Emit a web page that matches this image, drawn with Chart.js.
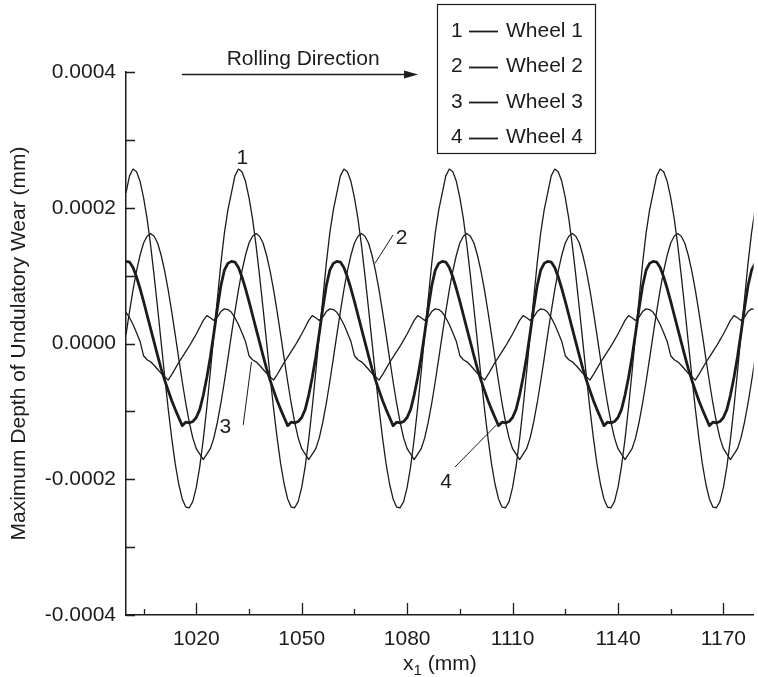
<!DOCTYPE html>
<html>
<head>
<meta charset="utf-8">
<title>Undulatory wear of four wheels</title>
<script src="https://cdn.jsdelivr.net/npm/chart.js@4.4.1/dist/chart.umd.min.js"></script>
<style>
  html, body { margin: 0; padding: 0; background: #ffffff; }
  #wrap { width: 758px; height: 677px; }
</style>
</head>
<body>
<div id="wrap"><canvas id="wear" width="758" height="677"></canvas></div>
<script>
// Position along the rail, x1 (mm)
const positionMm = [
  1000,1001,1002,1003,1004,1005,1006,1007,1008,1009,1010,1011,1012,1013,1014,1015,1016,1017,1018,1019,1020,1021,1022,1023,1024,1025,1026,1027,1028,1029,
  1030,1031,1032,1033,1034,1035,1036,1037,1038,1039,1040,1041,1042,1043,1044,1045,1046,1047,1048,1049,1050,1051,1052,1053,1054,1055,1056,1057,1058,1059,
  1060,1061,1062,1063,1064,1065,1066,1067,1068,1069,1070,1071,1072,1073,1074,1075,1076,1077,1078,1079,1080,1081,1082,1083,1084,1085,1086,1087,1088,1089,
  1090,1091,1092,1093,1094,1095,1096,1097,1098,1099,1100,1101,1102,1103,1104,1105,1106,1107,1108,1109,1110,1111,1112,1113,1114,1115,1116,1117,1118,1119,
  1120,1121,1122,1123,1124,1125,1126,1127,1128,1129,1130,1131,1132,1133,1134,1135,1136,1137,1138,1139,1140,1141,1142,1143,1144,1145,1146,1147,1148,1149,
  1150,1151,1152,1153,1154,1155,1156,1157,1158,1159,1160,1161,1162,1163,1164,1165,1166,1167,1168,1169,1170,1171,1172,1173,1174,1175,1176,1177,1178,1179
];

// Maximum depth of undulatory wear (mm), wheel 1
const wheel1Depth = [
  2.22e-4,2.47e-4,2.57e-4,2.53e-4,2.39e-4,2.15e-4,1.84e-4,1.45e-4,1.00e-4,0.52e-4,0.02e-4,-0.48e-4,-0.96e-4,-1.39e-4,-1.77e-4,-2.07e-4,-2.29e-4,-2.41e-4,-2.42e-4,-2.33e-4,-2.12e-4,-1.81e-4,-1.41e-4,-0.94e-4,-0.42e-4,0.13e-4,0.66e-4,1.18e-4,1.63e-4,1.97e-4,
  2.22e-4,2.47e-4,2.57e-4,2.53e-4,2.39e-4,2.15e-4,1.84e-4,1.45e-4,1.00e-4,0.52e-4,0.02e-4,-0.48e-4,-0.96e-4,-1.39e-4,-1.77e-4,-2.07e-4,-2.29e-4,-2.41e-4,-2.42e-4,-2.33e-4,-2.12e-4,-1.81e-4,-1.41e-4,-0.94e-4,-0.42e-4,0.13e-4,0.66e-4,1.18e-4,1.63e-4,1.97e-4,
  2.22e-4,2.47e-4,2.57e-4,2.53e-4,2.39e-4,2.15e-4,1.84e-4,1.45e-4,1.00e-4,0.52e-4,0.02e-4,-0.48e-4,-0.96e-4,-1.39e-4,-1.77e-4,-2.07e-4,-2.29e-4,-2.41e-4,-2.42e-4,-2.33e-4,-2.12e-4,-1.81e-4,-1.41e-4,-0.94e-4,-0.42e-4,0.13e-4,0.66e-4,1.18e-4,1.63e-4,1.97e-4,
  2.22e-4,2.47e-4,2.57e-4,2.53e-4,2.39e-4,2.15e-4,1.84e-4,1.45e-4,1.00e-4,0.52e-4,0.02e-4,-0.48e-4,-0.96e-4,-1.39e-4,-1.77e-4,-2.07e-4,-2.29e-4,-2.41e-4,-2.42e-4,-2.33e-4,-2.12e-4,-1.81e-4,-1.41e-4,-0.94e-4,-0.42e-4,0.13e-4,0.66e-4,1.18e-4,1.63e-4,1.97e-4,
  2.22e-4,2.47e-4,2.57e-4,2.53e-4,2.39e-4,2.15e-4,1.84e-4,1.45e-4,1.00e-4,0.52e-4,0.02e-4,-0.48e-4,-0.96e-4,-1.39e-4,-1.77e-4,-2.07e-4,-2.29e-4,-2.41e-4,-2.42e-4,-2.33e-4,-2.12e-4,-1.81e-4,-1.41e-4,-0.94e-4,-0.42e-4,0.13e-4,0.66e-4,1.18e-4,1.63e-4,1.97e-4,
  2.22e-4,2.47e-4,2.57e-4,2.53e-4,2.39e-4,2.15e-4,1.84e-4,1.45e-4,1.00e-4,0.52e-4,0.02e-4,-0.48e-4,-0.96e-4,-1.39e-4,-1.77e-4,-2.07e-4,-2.29e-4,-2.41e-4,-2.42e-4,-2.33e-4,-2.12e-4,-1.81e-4,-1.41e-4,-0.94e-4,-0.42e-4,0.13e-4,0.66e-4,1.18e-4,1.63e-4,1.97e-4
];

// wheel 2
const wheel2Depth = [
  0.13e-4,0.47e-4,0.79e-4,1.07e-4,1.30e-4,1.48e-4,1.58e-4,1.62e-4,1.58e-4,1.48e-4,1.30e-4,1.07e-4,0.79e-4,0.47e-4,0.13e-4,-0.22e-4,-0.56e-4,-0.88e-4,-1.16e-4,-1.39e-4,-1.55e-4,-1.63e-4,-1.71e-4,-1.63e-4,-1.55e-4,-1.39e-4,-1.16e-4,-0.88e-4,-0.56e-4,-0.22e-4,
  0.13e-4,0.47e-4,0.79e-4,1.07e-4,1.30e-4,1.48e-4,1.58e-4,1.62e-4,1.58e-4,1.48e-4,1.30e-4,1.07e-4,0.79e-4,0.47e-4,0.13e-4,-0.22e-4,-0.56e-4,-0.88e-4,-1.16e-4,-1.39e-4,-1.55e-4,-1.63e-4,-1.71e-4,-1.63e-4,-1.55e-4,-1.39e-4,-1.16e-4,-0.88e-4,-0.56e-4,-0.22e-4,
  0.13e-4,0.47e-4,0.79e-4,1.07e-4,1.30e-4,1.48e-4,1.58e-4,1.62e-4,1.58e-4,1.48e-4,1.30e-4,1.07e-4,0.79e-4,0.47e-4,0.13e-4,-0.22e-4,-0.56e-4,-0.88e-4,-1.16e-4,-1.39e-4,-1.55e-4,-1.63e-4,-1.71e-4,-1.63e-4,-1.55e-4,-1.39e-4,-1.16e-4,-0.88e-4,-0.56e-4,-0.22e-4,
  0.13e-4,0.47e-4,0.79e-4,1.07e-4,1.30e-4,1.48e-4,1.58e-4,1.62e-4,1.58e-4,1.48e-4,1.30e-4,1.07e-4,0.79e-4,0.47e-4,0.13e-4,-0.22e-4,-0.56e-4,-0.88e-4,-1.16e-4,-1.39e-4,-1.55e-4,-1.63e-4,-1.71e-4,-1.63e-4,-1.55e-4,-1.39e-4,-1.16e-4,-0.88e-4,-0.56e-4,-0.22e-4,
  0.13e-4,0.47e-4,0.79e-4,1.07e-4,1.30e-4,1.48e-4,1.58e-4,1.62e-4,1.58e-4,1.48e-4,1.30e-4,1.07e-4,0.79e-4,0.47e-4,0.13e-4,-0.22e-4,-0.56e-4,-0.88e-4,-1.16e-4,-1.39e-4,-1.55e-4,-1.63e-4,-1.71e-4,-1.63e-4,-1.55e-4,-1.39e-4,-1.16e-4,-0.88e-4,-0.56e-4,-0.22e-4,
  0.13e-4,0.47e-4,0.79e-4,1.07e-4,1.30e-4,1.48e-4,1.58e-4,1.62e-4,1.58e-4,1.48e-4,1.30e-4,1.07e-4,0.79e-4,0.47e-4,0.13e-4,-0.22e-4,-0.56e-4,-0.88e-4,-1.16e-4,-1.39e-4,-1.55e-4,-1.63e-4,-1.71e-4,-1.63e-4,-1.55e-4,-1.39e-4,-1.16e-4,-0.88e-4,-0.56e-4,-0.22e-4
];

// wheel 3
const wheel3Depth = [
  0.46e-4,0.38e-4,0.28e-4,0.16e-4,0.03e-4,-0.18e-4,-0.24e-4,-0.27e-4,-0.32e-4,-0.38e-4,-0.44e-4,-0.49e-4,-0.54e-4,-0.46e-4,-0.37e-4,-0.28e-4,-0.20e-4,-0.12e-4,-0.04e-4,0.05e-4,0.14e-4,0.24e-4,0.34e-4,0.41e-4,0.38e-4,0.34e-4,0.39e-4,0.47e-4,0.51e-4,0.50e-4,
  0.46e-4,0.38e-4,0.28e-4,0.16e-4,0.03e-4,-0.18e-4,-0.24e-4,-0.27e-4,-0.32e-4,-0.38e-4,-0.44e-4,-0.49e-4,-0.54e-4,-0.46e-4,-0.37e-4,-0.28e-4,-0.20e-4,-0.12e-4,-0.04e-4,0.05e-4,0.14e-4,0.24e-4,0.34e-4,0.41e-4,0.38e-4,0.34e-4,0.39e-4,0.47e-4,0.51e-4,0.50e-4,
  0.46e-4,0.38e-4,0.28e-4,0.16e-4,0.03e-4,-0.18e-4,-0.24e-4,-0.27e-4,-0.32e-4,-0.38e-4,-0.44e-4,-0.49e-4,-0.54e-4,-0.46e-4,-0.37e-4,-0.28e-4,-0.20e-4,-0.12e-4,-0.04e-4,0.05e-4,0.14e-4,0.24e-4,0.34e-4,0.41e-4,0.38e-4,0.34e-4,0.39e-4,0.47e-4,0.51e-4,0.50e-4,
  0.46e-4,0.38e-4,0.28e-4,0.16e-4,0.03e-4,-0.18e-4,-0.24e-4,-0.27e-4,-0.32e-4,-0.38e-4,-0.44e-4,-0.49e-4,-0.54e-4,-0.46e-4,-0.37e-4,-0.28e-4,-0.20e-4,-0.12e-4,-0.04e-4,0.05e-4,0.14e-4,0.24e-4,0.34e-4,0.41e-4,0.38e-4,0.34e-4,0.39e-4,0.47e-4,0.51e-4,0.50e-4,
  0.46e-4,0.38e-4,0.28e-4,0.16e-4,0.03e-4,-0.18e-4,-0.24e-4,-0.27e-4,-0.32e-4,-0.38e-4,-0.44e-4,-0.49e-4,-0.54e-4,-0.46e-4,-0.37e-4,-0.28e-4,-0.20e-4,-0.12e-4,-0.04e-4,0.05e-4,0.14e-4,0.24e-4,0.34e-4,0.41e-4,0.38e-4,0.34e-4,0.39e-4,0.47e-4,0.51e-4,0.50e-4,
  0.46e-4,0.38e-4,0.28e-4,0.16e-4,0.03e-4,-0.18e-4,-0.24e-4,-0.27e-4,-0.32e-4,-0.38e-4,-0.44e-4,-0.49e-4,-0.54e-4,-0.46e-4,-0.37e-4,-0.28e-4,-0.20e-4,-0.12e-4,-0.04e-4,0.05e-4,0.14e-4,0.24e-4,0.34e-4,0.41e-4,0.38e-4,0.34e-4,0.39e-4,0.47e-4,0.51e-4,0.50e-4
];

// wheel 4
const wheel4Depth = [
  1.21e-4,1.20e-4,1.12e-4,0.98e-4,0.81e-4,0.62e-4,0.42e-4,0.22e-4,0.02e-4,-0.18e-4,-0.37e-4,-0.54e-4,-0.69e-4,-0.84e-4,-0.97e-4,-1.09e-4,-1.21e-4,-1.16e-4,-1.17e-4,-1.15e-4,-1.09e-4,-0.97e-4,-0.76e-4,-0.50e-4,-0.20e-4,0.15e-4,0.52e-4,0.85e-4,1.08e-4,1.18e-4,
  1.21e-4,1.20e-4,1.12e-4,0.98e-4,0.81e-4,0.62e-4,0.42e-4,0.22e-4,0.02e-4,-0.18e-4,-0.37e-4,-0.54e-4,-0.69e-4,-0.84e-4,-0.97e-4,-1.09e-4,-1.21e-4,-1.16e-4,-1.17e-4,-1.15e-4,-1.09e-4,-0.97e-4,-0.76e-4,-0.50e-4,-0.20e-4,0.15e-4,0.52e-4,0.85e-4,1.08e-4,1.18e-4,
  1.21e-4,1.20e-4,1.12e-4,0.98e-4,0.81e-4,0.62e-4,0.42e-4,0.22e-4,0.02e-4,-0.18e-4,-0.37e-4,-0.54e-4,-0.69e-4,-0.84e-4,-0.97e-4,-1.09e-4,-1.21e-4,-1.16e-4,-1.17e-4,-1.15e-4,-1.09e-4,-0.97e-4,-0.76e-4,-0.50e-4,-0.20e-4,0.15e-4,0.52e-4,0.85e-4,1.08e-4,1.18e-4,
  1.21e-4,1.20e-4,1.12e-4,0.98e-4,0.81e-4,0.62e-4,0.42e-4,0.22e-4,0.02e-4,-0.18e-4,-0.37e-4,-0.54e-4,-0.69e-4,-0.84e-4,-0.97e-4,-1.09e-4,-1.21e-4,-1.16e-4,-1.17e-4,-1.15e-4,-1.09e-4,-0.97e-4,-0.76e-4,-0.50e-4,-0.20e-4,0.15e-4,0.52e-4,0.85e-4,1.08e-4,1.18e-4,
  1.21e-4,1.20e-4,1.12e-4,0.98e-4,0.81e-4,0.62e-4,0.42e-4,0.22e-4,0.02e-4,-0.18e-4,-0.37e-4,-0.54e-4,-0.69e-4,-0.84e-4,-0.97e-4,-1.09e-4,-1.21e-4,-1.16e-4,-1.17e-4,-1.15e-4,-1.09e-4,-0.97e-4,-0.76e-4,-0.50e-4,-0.20e-4,0.15e-4,0.52e-4,0.85e-4,1.08e-4,1.18e-4,
  1.21e-4,1.20e-4,1.12e-4,0.98e-4,0.81e-4,0.62e-4,0.42e-4,0.22e-4,0.02e-4,-0.18e-4,-0.37e-4,-0.54e-4,-0.69e-4,-0.84e-4,-0.97e-4,-1.09e-4,-1.21e-4,-1.16e-4,-1.17e-4,-1.15e-4,-1.09e-4,-0.97e-4,-0.76e-4,-0.50e-4,-0.20e-4,0.15e-4,0.52e-4,0.85e-4,1.08e-4,1.18e-4
];

const wheelNames = ['Wheel 1', 'Wheel 2', 'Wheel 3', 'Wheel 4'];
const wheelTags = ['1', '2', '3', '4'];

// Axis ticks
const xTickValues = [1020, 1050, 1080, 1110, 1140, 1170];
const xMinorTickValues = [1005, 1035, 1065, 1095, 1125, 1155];
const yTickValues = [-0.0004, -0.0002, 0, 0.0002, 0.0004];
const yMinorTickValues = [-0.0003, -0.0001, 0.0001, 0.0003];

// Curve tags with leader lines, in data units (mm, mm)
const curveCallouts = [
  { text: '1', at: [1033.1, 2.73e-4], leader: null },
  { text: '2', at: [1078.4, 1.55e-4], leader: [[1076.0, 1.60e-4], [1070.85, 1.18e-4]] },
  { text: '3', at: [1028.3, -1.23e-4], leader: [[1033.35, -1.20e-4], [1035.7, -0.27e-4]] },
  { text: '4', at: [1091.1, -2.04e-4], leader: [[1093.6, -1.82e-4], [1105.4, -1.20e-4]] }
];
const rollingArrow = { label: 'Rolling Direction', labelAt: [1050.4, 4.19e-4], from: [1015.9, 3.97e-4], to: [1083.1, 3.97e-4] };

const INK = '#1c1c1c';
const FONT = "'Liberation Sans', Arial, Helvetica, sans-serif";
const TEXT_PX = 21;

function series(values) {
  return positionMm.map((x, i) => ({ x, y: values[i] }));
}

const overlays = {
  id: 'overlays',
  afterDraw(chart) {
    const { ctx, chartArea: a } = chart;
    const sx = chart.scales.x, sy = chart.scales.y;
    const px = v => sx.getPixelForValue(v);
    const py = v => sy.getPixelForValue(v);
    ctx.save();
    ctx.strokeStyle = INK;
    ctx.fillStyle = INK;

    // inward tick marks
    ctx.lineWidth = 1.3;
    ctx.beginPath();
    yTickValues.concat(yMinorTickValues).forEach(v => {
      const y = Math.round(py(v)) + 0.5;
      ctx.moveTo(a.left, y); ctx.lineTo(a.left + 9, y);
    });
    xTickValues.forEach(v => {
      const x = Math.round(px(v)) + 0.5;
      ctx.moveTo(x, a.bottom); ctx.lineTo(x, a.bottom - 12);
    });
    xMinorTickValues.forEach(v => {
      const x = Math.round(px(v)) + 0.5;
      ctx.moveTo(x, a.bottom); ctx.lineTo(x, a.bottom - 6);
    });
    ctx.stroke();

    ctx.font = `${TEXT_PX}px ${FONT}`;

    // axis titles
    ctx.save();
    ctx.translate(19, (a.top + a.bottom) / 2);
    ctx.rotate(-Math.PI / 2);
    ctx.textAlign = 'center';
    ctx.textBaseline = 'middle';
    ctx.fillText('Maximum Depth of Undulatory Wear (mm)', 0, 0);
    ctx.restore();

    const xMain = 'x', xSub = '1', xRest = ' (mm)';
    const subFont = `15px ${FONT}`;
    const w1 = ctx.measureText(xMain).width;
    const w3 = ctx.measureText(xRest).width;
    ctx.font = subFont;
    const w2 = ctx.measureText(xSub).width;
    const cx = (a.left + a.right) / 2;
    let tx = cx - (w1 + w2 + w3) / 2;
    const base = 670;
    ctx.textAlign = 'left';
    ctx.textBaseline = 'alphabetic';
    ctx.font = `${TEXT_PX}px ${FONT}`;
    ctx.fillText(xMain, tx, base); tx += w1;
    ctx.font = subFont;
    ctx.fillText(xSub, tx, base + 5); tx += w2;
    ctx.font = `${TEXT_PX}px ${FONT}`;
    ctx.fillText(xRest, tx, base);

    // rolling direction arrow
    ctx.textAlign = 'center';
    ctx.textBaseline = 'middle';
    ctx.fillText(rollingArrow.label, px(rollingArrow.labelAt[0]), py(rollingArrow.labelAt[1]));
    const ax0 = px(rollingArrow.from[0]), ax1 = px(rollingArrow.to[0]);
    const ay = Math.round(py(rollingArrow.from[1])) + 0.5;
    ctx.lineWidth = 1.4;
    ctx.beginPath();
    ctx.moveTo(ax0, ay); ctx.lineTo(ax1 - 12, ay);
    ctx.stroke();
    ctx.beginPath();
    ctx.moveTo(ax1, ay); ctx.lineTo(ax1 - 14, ay - 4); ctx.lineTo(ax1 - 14, ay + 4); ctx.closePath();
    ctx.fill();

    // curve callouts
    ctx.lineWidth = 1;
    curveCallouts.forEach(c => {
      ctx.fillText(c.text, px(c.at[0]), py(c.at[1]));
      if (c.leader) {
        ctx.beginPath();
        ctx.moveTo(px(c.leader[0][0]), py(c.leader[0][1]));
        ctx.lineTo(px(c.leader[1][0]), py(c.leader[1][1]));
        ctx.stroke();
      }
    });

    // legend box
    const lx = 437.5, ly = 4.5, lw = 158, lh = 149;
    ctx.fillStyle = '#ffffff';
    ctx.fillRect(lx, ly, lw, lh);
    ctx.fillStyle = INK;
    ctx.lineWidth = 1.2;
    ctx.strokeRect(lx, ly, lw, lh);
    ctx.textBaseline = 'middle';
    wheelNames.forEach((name, i) => {
      const ry = 31 + i * 35.5;
      ctx.textAlign = 'left';
      ctx.fillText(wheelTags[i], 451, ry);
      ctx.lineWidth = 1.8;
      ctx.beginPath();
      ctx.moveTo(469, Math.round(ry) + 0.5); ctx.lineTo(498, Math.round(ry) + 0.5);
      ctx.stroke();
      ctx.fillText(name, 506, ry);
    });
    ctx.restore();
  }
};

const thin = 1.3, thick = 2.8;
const depths = [wheel1Depth, wheel2Depth, wheel3Depth, wheel4Depth];
const widths = [thin, thin, thin, thick];

new Chart(document.getElementById('wear'), {
  type: 'line',
  data: {
    datasets: depths.map((d, i) => ({
      label: wheelNames[i],
      data: series(d),
      borderColor: INK,
      borderWidth: widths[i],
      pointRadius: 0,
      tension: 0,
      fill: false,
      borderJoinStyle: 'round'
    }))
  },
  options: {
    responsive: false,
    animation: false,
    devicePixelRatio: 1,
    layout: { padding: { top: 72, right: 0, bottom: 0, left: 0 } },
    plugins: { legend: { display: false }, tooltip: { enabled: false } },
    scales: {
      x: {
        type: 'linear',
        min: 1000,
        max: 1178.6,
        afterFit(s) { s.height = 62; },
        afterBuildTicks(s) { s.ticks = xTickValues.map(v => ({ value: v })); },
        grid: { display: false, drawTicks: false },
        border: { display: true, color: INK, width: 1.5 },
        ticks: {
          autoSkip: false, maxRotation: 0, padding: 12, color: INK,
          font: { family: FONT, size: TEXT_PX },
          callback: v => String(v)
        }
      },
      y: {
        type: 'linear',
        min: -0.0004,
        max: 0.0004,
        afterFit(s) { s.width = 126; },
        afterBuildTicks(s) { s.ticks = yTickValues.map(v => ({ value: v })); },
        grid: { display: false, drawTicks: false },
        border: { display: true, color: INK, width: 1.5 },
        ticks: {
          padding: 10, color: INK,
          font: { family: FONT, size: TEXT_PX },
          callback: v => Number(v).toFixed(4)
        }
      }
    }
  },
  plugins: [overlays]
});
</script>
</body>
</html>
